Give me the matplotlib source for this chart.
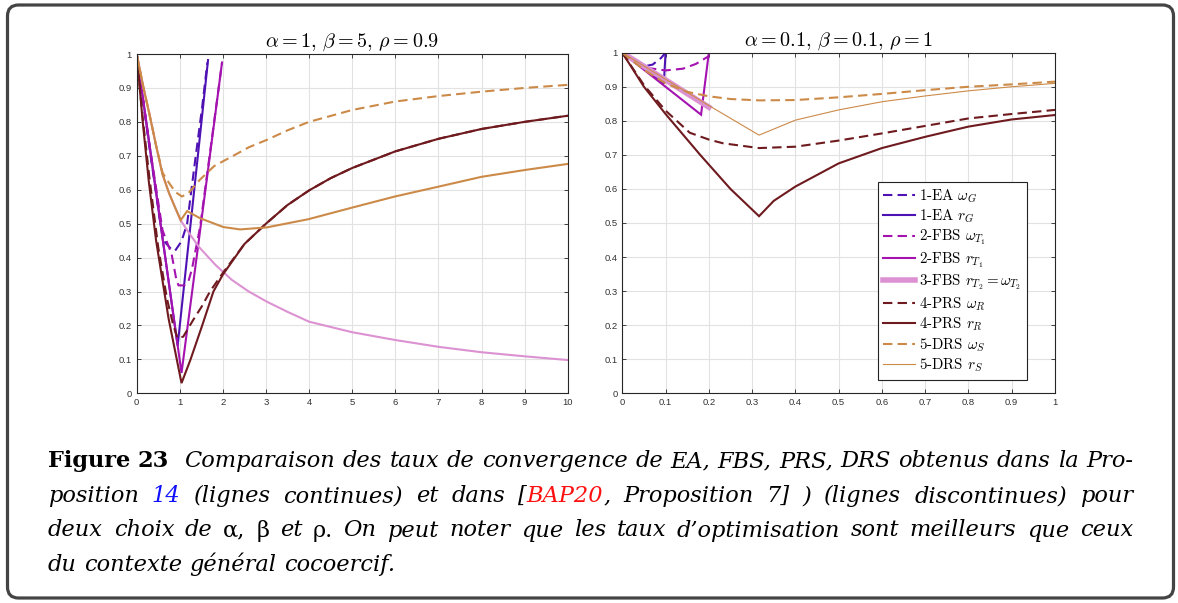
import re
import matplotlib
matplotlib.use('Agg')
import matplotlib.pyplot as plt
from matplotlib.patches import FancyBboxPatch

plt.rcParams['font.family'] = ['Liberation Sans', 'DejaVu Sans']
plt.rcParams['mathtext.fontset'] = 'cm'

# ---- left panel : alpha=1, beta=5, rho=0.9 ----
left_ea_w_x = [0, 0.3, 0.55, 0.66, 0.8, 0.89, 1.04, 1.17, 1.36, 1.52, 1.64]
left_ea_w_y = [1, 0.72, 0.5, 0.445, 0.425, 0.42, 0.448, 0.5, 0.69, 0.845, 0.975]
left_ea_r_x = [0, 0.95, 1.655]
left_ea_r_y = [1, 0.14, 0.982]
left_fbs1_w_x = [0, 0.3, 0.6, 0.81, 0.92, 0.97, 1.1, 1.2, 1.28, 1.47, 1.98]
left_fbs1_w_y = [1, 0.73, 0.48, 0.41, 0.335, 0.318, 0.318, 0.33, 0.365, 0.49, 0.975]
left_fbs1_r_x = [0, 1.04, 1.98]
left_fbs1_r_y = [1, 0.06, 0.975]
left_fbs2_x = [0, 0.15, 0.3, 0.45, 0.6, 0.75, 0.9, 1.02, 1.2, 1.44, 1.83, 2.21, 2.6, 3.02,
               3.5, 4, 5, 6, 7, 8, 9, 10]
left_fbs2_y = [1, 0.905, 0.82, 0.73, 0.645, 0.59, 0.545, 0.51, 0.475, 0.432, 0.378, 0.334, 0.3,
               0.27, 0.24, 0.211, 0.18, 0.157, 0.137, 0.121, 0.109, 0.098]
left_prs_w_x = [0, 0.14, 0.3, 0.5, 0.7, 0.85, 0.95, 1.08, 1.31, 1.51, 1.7, 2.0, 2.5, 3, 3.5,
                4, 4.5, 5, 6, 7, 8, 9, 10]
left_prs_w_y = [1, 0.81, 0.63, 0.43, 0.28, 0.2, 0.162, 0.167, 0.216, 0.256, 0.3, 0.355, 0.44,
                0.5, 0.555, 0.598, 0.634, 0.664, 0.713, 0.75, 0.779, 0.8, 0.818]
left_prs_r_x = [0, 0.14, 0.28, 0.45, 0.74, 1.04, 1.25, 1.52, 1.78, 2.0, 2.5, 3, 3.5, 4, 4.5,
                5, 6, 7, 8, 9, 10]
left_prs_r_y = [1, 0.8, 0.625, 0.45, 0.22, 0.03, 0.1, 0.2, 0.3, 0.35, 0.44, 0.5, 0.555, 0.598,
                0.634, 0.664, 0.713, 0.75, 0.779, 0.8, 0.818]
left_drs_w_x = [0, 0.15, 0.3, 0.45, 0.6, 0.75, 0.9, 1.05, 1.2, 1.47, 1.8, 2.24, 2.6, 3.02,
                3.5, 4, 5, 6, 7, 8, 9, 10]
left_drs_w_y = [1, 0.905, 0.82, 0.73, 0.65, 0.62, 0.593, 0.58, 0.59, 0.63, 0.67, 0.7, 0.725,
                0.747, 0.775, 0.8, 0.835, 0.86, 0.876, 0.889, 0.9, 0.909]
left_drs_r_x = [0, 0.15, 0.3, 0.45, 0.6, 0.75, 0.9, 1.02, 1.17, 1.47, 2.01, 2.4, 3.02, 3.98,
                4.99, 5.99, 7, 8, 9, 10]
left_drs_r_y = [1, 0.905, 0.82, 0.73, 0.645, 0.59, 0.545, 0.51, 0.537, 0.516, 0.49, 0.483,
                0.489, 0.513, 0.547, 0.58, 0.609, 0.638, 0.658, 0.676]

# ---- right panel : alpha=0.1, beta=0.1, rho=1 ----
right_ea_w_x = [0, 0.03, 0.05, 0.07, 0.09, 0.1]
right_ea_w_y = [1, 0.97, 0.96, 0.965, 0.985, 1.0]
right_ea_r_x = [0, 0.096, 0.1]
right_ea_r_y = [1, 0.91, 1.0]
right_fbs1_w_x = [0, 0.03, 0.06, 0.1, 0.14, 0.17, 0.2]
right_fbs1_w_y = [1, 0.97, 0.955, 0.948, 0.953, 0.967, 0.99]
right_fbs1_r_x = [0, 0.182, 0.2]
right_fbs1_r_y = [1, 0.818, 1.0]
right_fbs2_x = [0, 0.2]
right_fbs2_y = [1, 0.84]
right_prs_w_x = [0, 0.05, 0.1, 0.156, 0.2, 0.233, 0.316, 0.4, 0.5, 0.6, 0.7, 0.8, 0.9, 1]
right_prs_w_y = [1, 0.905, 0.83, 0.765, 0.745, 0.734, 0.72, 0.724, 0.742, 0.763, 0.785, 0.807,
                 0.82, 0.832]
right_prs_r_x = [0, 0.05, 0.1, 0.18, 0.25, 0.316, 0.35, 0.4, 0.5, 0.6, 0.7, 0.8, 0.9, 1]
right_prs_r_y = [1, 0.9, 0.82, 0.7, 0.6, 0.52, 0.565, 0.607, 0.675, 0.72, 0.753, 0.783, 0.804,
                 0.817]
right_drs_w_x = [0, 0.05, 0.1, 0.15, 0.2, 0.25, 0.316, 0.4, 0.5, 0.6, 0.7, 0.8, 0.9, 1]
right_drs_w_y = [1, 0.95, 0.91, 0.885, 0.872, 0.864, 0.86, 0.861, 0.869, 0.879, 0.89, 0.9,
                 0.907, 0.915]
right_drs_r_x = [0, 0.1, 0.2, 0.316, 0.4, 0.5, 0.6, 0.7, 0.8, 0.9, 1]
right_drs_r_y = [1, 0.922, 0.845, 0.758, 0.802, 0.832, 0.856, 0.873, 0.888, 0.9, 0.91]

labels = [r'1-EA $\omega_G$', r'1-EA $r_G$', r'2-FBS $\omega_{T_1}$', r'2-FBS $r_{T_1}$',
          r'3-FBS $r_{T_2}=\omega_{T_2}$', r'4-PRS $\omega_R$', r'4-PRS $r_R$',
          r'5-DRS $\omega_S$', r'5-DRS $r_S$']
colors = ['#4E12B4', '#4E12B4', '#A412B0', '#A412B0', '#DC92D2', '#6E1A1E', '#6E1A1E',
          '#CC8A48', '#CC8A48']
dashed = [True, False, True, False, False, True, False, True, False]

left_series = [(left_ea_w_x, left_ea_w_y), (left_ea_r_x, left_ea_r_y),
               (left_fbs1_w_x, left_fbs1_w_y), (left_fbs1_r_x, left_fbs1_r_y),
               (left_fbs2_x, left_fbs2_y), (left_prs_w_x, left_prs_w_y),
               (left_prs_r_x, left_prs_r_y), (left_drs_w_x, left_drs_w_y),
               (left_drs_r_x, left_drs_r_y)]
right_series = [(right_ea_w_x, right_ea_w_y), (right_ea_r_x, right_ea_r_y),
                (right_fbs1_w_x, right_fbs1_w_y), (right_fbs1_r_x, right_fbs1_r_y),
                (right_fbs2_x, right_fbs2_y), (right_prs_w_x, right_prs_w_y),
                (right_prs_r_x, right_prs_r_y), (right_drs_w_x, right_drs_w_y),
                (right_drs_r_x, right_drs_r_y)]
left_widths = [1.5] * 9
right_widths = [1.5, 1.5, 1.5, 1.5, 4.0, 1.5, 1.5, 1.5, 0.8]

W, H = 1178, 603
fig = plt.figure(figsize=(W / 100, H / 100), dpi=100)

frame = fig.add_axes([0, 0, 1, 1])
frame.set_xlim(0, W)
frame.set_ylim(H, 0)
frame.axis('off')
frame.add_patch(FancyBboxPatch((7.5, 5), 1166, 593, boxstyle='round,pad=0,rounding_size=11',
                               fc='white', ec='#444444', lw=2.3))


def make_panel(rect, series, widths, xmax, xticks, xticklabels, title):
    ax = fig.add_axes(rect)
    for (x, y), c, d, lw, lab in zip(series, colors, dashed, widths, labels):
        if d:
            ax.plot(x, y, color=c, lw=lw, dashes=(4.5, 2.5), label=lab)
        else:
            ax.plot(x, y, color=c, lw=lw, solid_joinstyle='miter', label=lab)
    ax.set_xlim(0, xmax)
    ax.set_ylim(0, 1)
    ax.set_xticks(xticks)
    ax.set_xticklabels(xticklabels)
    ax.set_yticks([i / 10 for i in range(11)])
    ax.set_yticklabels(['0'] + ['0.%d' % i for i in range(1, 10)] + ['1'])
    ax.grid(True, color='#E2E2E2', lw=0.8)
    ax.set_axisbelow(True)
    ax.tick_params(direction='in', length=3, width=0.6, top=True, right=True,
                   labelsize=6.8, color='#262626', labelcolor='#333333', pad=3.5)
    for s in ax.spines.values():
        s.set_color('#262626')
        s.set_linewidth(0.8)
    ax.set_title(title, fontsize=14.5, pad=5)
    return ax


ax1 = make_panel([136.7 / W, 1 - 393.3 / H, 431 / W, 339.3 / H], left_series, left_widths,
                 10, list(range(11)), [str(i) for i in range(11)],
                 r'$\alpha = 1,\, \beta = 5,\, \rho = 0.9$')
ax2 = make_panel([622.3 / W, 1 - 393.3 / H, 432.7 / W, 340.6 / H], right_series, right_widths,
                 1, [i / 10 for i in range(11)],
                 ['0'] + ['0.%d' % i for i in range(1, 10)] + ['1'],
                 r'$\alpha = 0.1,\, \beta = 0.1,\, \rho = 1$')

leg = ax2.legend(loc='upper left', bbox_to_anchor=(878 / W, 1 - 181.7 / H),
                 bbox_transform=fig.transFigure, borderaxespad=0, fancybox=False,
                 framealpha=1, edgecolor='#222222', prop={'family': 'cmr10', 'size': 10.8},
                 handlelength=2.1, handletextpad=0.3, labelspacing=0.2, borderpad=0.35)
leg.get_frame().set_linewidth(0.8)

# ---- caption ----
cap_left, cap_right = 48, 1133
cap_size = 16.2
cap_styles = {
    'b': dict(weight='bold', style='normal', color='black'),
    'i': dict(style='italic', color='black'),
    'u': dict(style='normal', color='black'),
    'blue': dict(style='italic', color='#1010FF'),
    'red': dict(style='italic', color='#FF1010'),
}
caption = [
    ([('Figure 23', 'b'),
      ('  Comparaison des taux de convergence de EA, FBS, PRS, DRS obtenus dans la Pro-', 'i')],
     467, True),
    ([('position', 'i'), (' 14', 'blue'), (' (lignes continues) et dans [', 'i'), ('BAP20', 'red'),
      (', Proposition 7] ) (lignes discontinues) pour', 'i')], 502, True),
    ([('deux choix de', 'i'), (' α, β', 'u'), (' et', 'i'), (' ρ.', 'u'),
      (' On peut noter que les taux d’optimisation sont meilleurs que ceux', 'i')], 536.5, True),
    ([('du contexte général cocoercif.', 'i')], 571, False),
]

renderer = fig.canvas.get_renderer()
for chunks, y, justify in caption:
    items = []
    for txt, st in chunks:
        for word in re.findall(r' *[^ ]+', txt):
            n = len(word) - len(word.lstrip(' '))
            t = frame.text(0, y, word.lstrip(' '), fontsize=cap_size, family='DejaVu Serif',
                           va='baseline', ha='left', **cap_styles[st])
            items.append([t, t.get_window_extent(renderer).width, n])
    total = sum(it[1] for it in items)
    ngaps = sum(it[2] for it in items[1:])
    gap = (cap_right - cap_left - total) / ngaps if justify else cap_size * 1.39 * 0.32
    x = cap_left
    for i, (t, w, n) in enumerate(items):
        if i:
            x += n * gap
        t.set_x(x)
        x += w

fig.savefig('out.png', dpi=100)
